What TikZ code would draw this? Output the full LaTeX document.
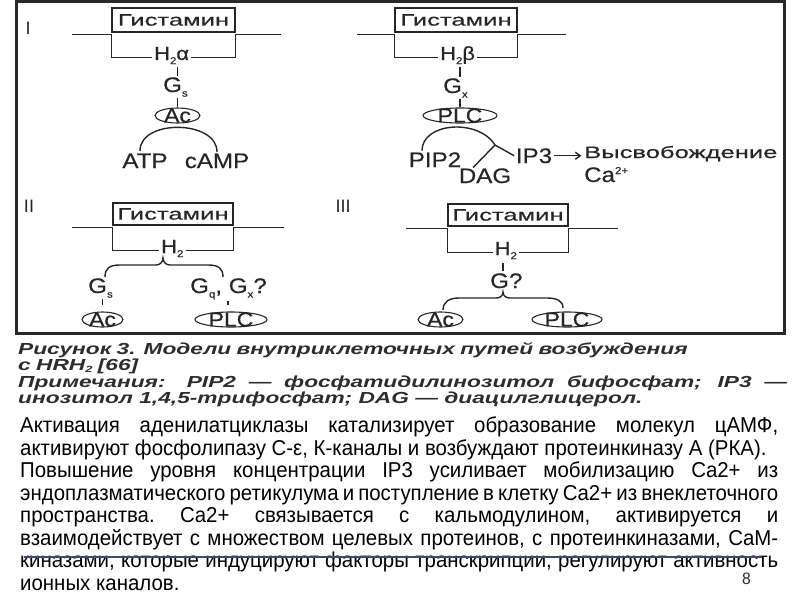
\documentclass[tikz,border=0pt]{standalone}
\usepackage{fontspec}
\setmainfont{Liberation Sans}
\newfontfamily\diagfont{Liberation Sans}[FakeStretch=1.15, FakeBold=0.5]
\newfontfamily\cyrfont{Liberation Sans}[FakeStretch=1.55, FakeBold=0.6]
\newfontfamily\notefont{Liberation Sans}[FakeStretch=1.42]
\newfontfamily\bodyfont{Liberation Sans}[FakeStretch=0.95]
\usetikzlibrary{arrows.meta,positioning,calc,shapes.geometric}
\definecolor{inkDiag}{RGB}{38, 38, 38}
\definecolor{inkFrame}{RGB}{40, 40, 40}
\definecolor{inkNote}{RGB}{45, 45, 45}
\definecolor{inkLine}{RGB}{62, 74, 108}
\newcommand{\lowidx}[1]{\raisebox{-0.22em}{\fontsize{10}{10}\selectfont #1}}
\newcommand{\highidx}[1]{\raisebox{0.38em}{\fontsize{10}{10}\selectfont #1}}
\newcommand{\capidx}[1]{\raisebox{-0.12em}{\fontsize{9}{9}\selectfont #1}}

\tikzset{
  frame/.style={draw=inkFrame, line width=3pt},
  lbl/.style={font=\diagfont\fontsize{21}{21}\selectfont, text=inkDiag, inner sep=1.5pt},
  rcpt/.style={font=\diagfont\fontsize{19}{19}\selectfont, text=inkDiag, inner sep=2pt},
  cyr/.style={font=\cyrfont\fontsize{16.5}{16.5}\selectfont, text=inkDiag, inner sep=1.5pt},
  roman/.style={font=\fontsize{18}{18}\selectfont, text=inkDiag, inner sep=0pt},
  histbox/.style={draw=inkDiag, line width=1.4pt, font=\cyrfont\fontsize{16.5}{16.5}\selectfont,
    text=inkDiag, minimum height=22pt, inner sep=0pt},
  enz/.style={ellipse, draw=inkDiag, line width=1.1pt, minimum width=#1, minimum height=15pt, inner sep=0pt},
  enztext/.style={font=\diagfont\fontsize{20}{20}\selectfont, text=inkDiag, inner sep=0pt},
  link/.style={draw=inkDiag, line width=1.4pt},
  notetext/.style={font=\notefont\bfseries\itshape\fontsize{16}{14.7}\selectfont, text=inkNote,
    inner sep=0pt},
  bodytext/.style={font=\bodyfont\fontsize{21.5}{22.5}\selectfont, text=black, inner sep=0pt,
    text width=758pt, align=justify},
}

\begin{document}
\begin{tikzpicture}[x=1pt, y=-1pt]
\useasboundingbox (0,0) rectangle (800,600);

% figure frame
\draw[frame] (16.2,1.7) rectangle (784,333.3);
\node[roman] (numI) at (28,28.5) {I};
\node[roman] (numII) at (29,206) {II};
\node[roman] (numIII) at (343,206) {III};

% --- I, H2 alpha
\node[histbox, minimum width=123pt, minimum height=24pt] (hist1) at (173.5,20) {Гистамин};
\node[rcpt, anchor=base west] (h1a) at (152,60) {H\lowidx{2}α};
\draw[link] ($(hist1.south west)+(-39,2)$) -- ($(hist1.south west)+(0,2)$) |- (h1a.mid west);
\draw[link] (h1a.mid east) -| ($(hist1.south east)+(0,2)$) -- +(45,0);
\node[enz=45pt] (ac1) at (177.5,115.5) {};
\node[enztext] (ac1t) at (ac1) {Ac};
\node[lbl, anchor=base west] (gs1) at (161.5,92) {G\lowidx{s}};
\draw[link, shorten <=1pt] (h1a.south -| ac1.north) -- (gs1.north -| ac1.north);
\draw[link] (gs1.south -| ac1.north) -- (ac1.north);
\node[lbl, anchor=base] (atp) at (145,168) {ATP};
\node[lbl, anchor=base] (camp) at (217,168) {cAMP};
\draw[link] ($(atp.north)+(-5,-1)$) .. controls +(0,-32) and +(0,-32) .. ($(camp.north)+(0,0)$);

% --- I, H2 beta
\node[histbox, minimum width=122pt, minimum height=24pt] (hist2) at (456,20) {Гистамин};
\node[rcpt, anchor=base west] (h1b) at (438,60) {H\lowidx{2}β};
\draw[link] ($(hist2.south west)+(-37,2)$) -- ($(hist2.south west)+(0,2)$) |- (h1b.mid west);
\draw[link] (h1b.mid east) -| ($(hist2.south east)+(0,2)$) -- +(48,0);
\node[enz=74pt] (plc1) at (460,115.5) {};
\node[enztext] (plc1t) at (plc1) {PLC};
\node[lbl, anchor=base west] (gx1) at (441.5,93) {G\lowidx{x}};
\draw[link, shorten <=1pt] (h1b.south -| plc1.north) -- (gx1.north -| plc1.north);
\draw[link] (gx1.south -| plc1.north) -- (plc1.north);
\node[lbl, anchor=base] (pip2) at (435,167) {PIP2};
\node[lbl, anchor=base] (dag) at (485,183) {DAG};
\node[lbl, anchor=base] (ip3) at (534,163) {IP3};
\node[cyr, anchor=base west] (rel) at (582.5,158) {Высвобождение};
\node[lbl, anchor=base west] (relca) at (582.5,182) {Ca\highidx{2+}};
\coordinate (j1) at (495,145);
\draw[link] ($(pip2.north)+(-13,0)$) .. controls +(0,-28) and +(-17,-27) .. (j1) -- (ip3.west);
\draw[link] (j1) -- ($(dag.north)+(-12,1)$);
\draw[link, shorten >=1pt, -{Straight Barb[length=5pt, width=7pt]}] (ip3.east) -- (ip3.east -| rel.west);

% --- II
\node[histbox, minimum width=120pt] (hist3) at (173,214) {Гистамин};
\node[rcpt, anchor=base west] (h2) at (159,253) {H\lowidx{2}};
\draw[link] ($(hist3.south west)+(-40,2)$) -- ($(hist3.south west)+(0,2)$) |- (h2.mid west);
\draw[link] (h2.mid east) -| ($(hist3.south east)+(0,2)$) -- +(50,0);
\node[lbl, anchor=base west] (gs2) at (86.5,293) {G\lowidx{s}};
\node[lbl, anchor=base west] (gq2) at (188.5,293) {G\lowidx{q}, G\lowidx{x}?};
\node[enz=41pt] (ac2) at (102.5,319.5) {};
\node[enztext] (ac2t) at (ac2) {Ac};
\node[enz=72pt] (plc2) at (231,319.5) {};
\node[enztext] (plc2t) at (plc2) {PLC};
\coordinate (br2) at (163,258);
\coordinate (brL2) at (105,277);
\coordinate (brR2) at (223,277);
\draw[link] (brL2) .. controls +(0,-9) and +(-10,0) .. ($(br2)+(-43,7)$)
  -- ($(br2)+(-7,7)$) .. controls +(4,0) and +(0,4) .. (br2)
  .. controls +(0,4) and +(-4,0) .. ($(br2)+(7,7)$) -- ($(br2)+(45,7)$)
  .. controls +(10,0) and +(0,-9) .. (brR2);
\draw[link] (gs2.south -| ac2.north) -- ($(ac2.north)+(0,-6)$);
\draw[link] ($(gq2.south -| plc2.north)+(-3,0)$) -- ($(plc2.north)+(-3,-6)$);

% --- III
\node[histbox, minimum width=120pt] (hist4) at (508,215) {Гистамин};
\node[rcpt, anchor=base west] (h3) at (492.5,255) {H\lowidx{2}};
\draw[link] ($(hist4.south west)+(-41,2)$) -- ($(hist4.south west)+(0,2)$) |- (h3.mid west);
\draw[link] (h3.mid east) -| ($(hist4.south east)+(0,2)$) -- +(49,0);
\node[lbl, anchor=base west] (g3) at (488.5,288) {G?};
\coordinate (br3) at (503,292);
\draw[link, shorten <=2pt, shorten >=1pt] (h3.south -| br3) -- (g3.north -| br3);
\node[enz=45pt] (ac3) at (440.5,319.5) {};
\node[enztext] (ac3t) at (ac3) {Ac};
\node[enz=70pt] (plc3) at (567,319.5) {};
\node[enztext] (plc3t) at (plc3) {PLC};
\coordinate (brL3) at (443,310);
\coordinate (brR3) at (563,308);
\draw[link] (brL3) .. controls +(0,-8) and +(-10,0) .. ($(br3)+(-44,6)$)
  -- ($(br3)+(-7,6)$) .. controls +(4,0) and +(0,4) .. (br3)
  .. controls +(0,4) and +(-4,0) .. ($(br3)+(7,6)$) -- ($(br3)+(44,6)$)
  .. controls +(10,0) and +(0,-7) .. (brR3);

% caption under the figure
\node[notetext, anchor=base west, text width=700pt, align=left] (title) at (18,354.5)
  {Рисунок 3. Модели внутриклеточных путей возбуждения\\ с HRH\capidx{2} [66]};
\node[notetext, anchor=base west, text width=769pt, align=justify] (note) at (18,387.5)
  {Примечания: PIP2 — фосфатидилинозитол бифосфат; IP3 —\linebreak
   инозитол 1,4,5-трифосфат; DAG — диацилглицерол.};

% slide text
\node[bodytext, anchor=base west] (body) at (20,432.5) {\frenchspacing
Активация аденилатциклазы катализирует образование молекул цАМФ, \linebreak
активируют фосфолипазу С-ε, К-каналы и возбуждают протеинкиназу А (РКА).\par
Повышение уровня концентрации IP3 усиливает мобилизацию Ca2+ из \linebreak
эндоплазматического ретикулума и поступление в клетку Ca2+ из внеклеточного \linebreak
пространства. Ca2+ связывается с кальмодулином, активируется и \linebreak
взаимодействует с множеством целевых протеинов, с протеинкиназами, CaM-\linebreak
киназами, которые индуцируют факторы транскрипции, регулируют активность \linebreak
ионных каналов.};
\node[font=\bodyfont\fontsize{16.5}{16.5}\selectfont, text=inkNote, inner sep=0pt] (pagenum) at (746.5,579) {8};
\coordinate (strikeL) at (24,557);
\coordinate (strikeR) at (762,557);
\draw[draw=inkLine, line width=1.6pt] (strikeL) -- (strikeR);
\end{tikzpicture}
\end{document}
